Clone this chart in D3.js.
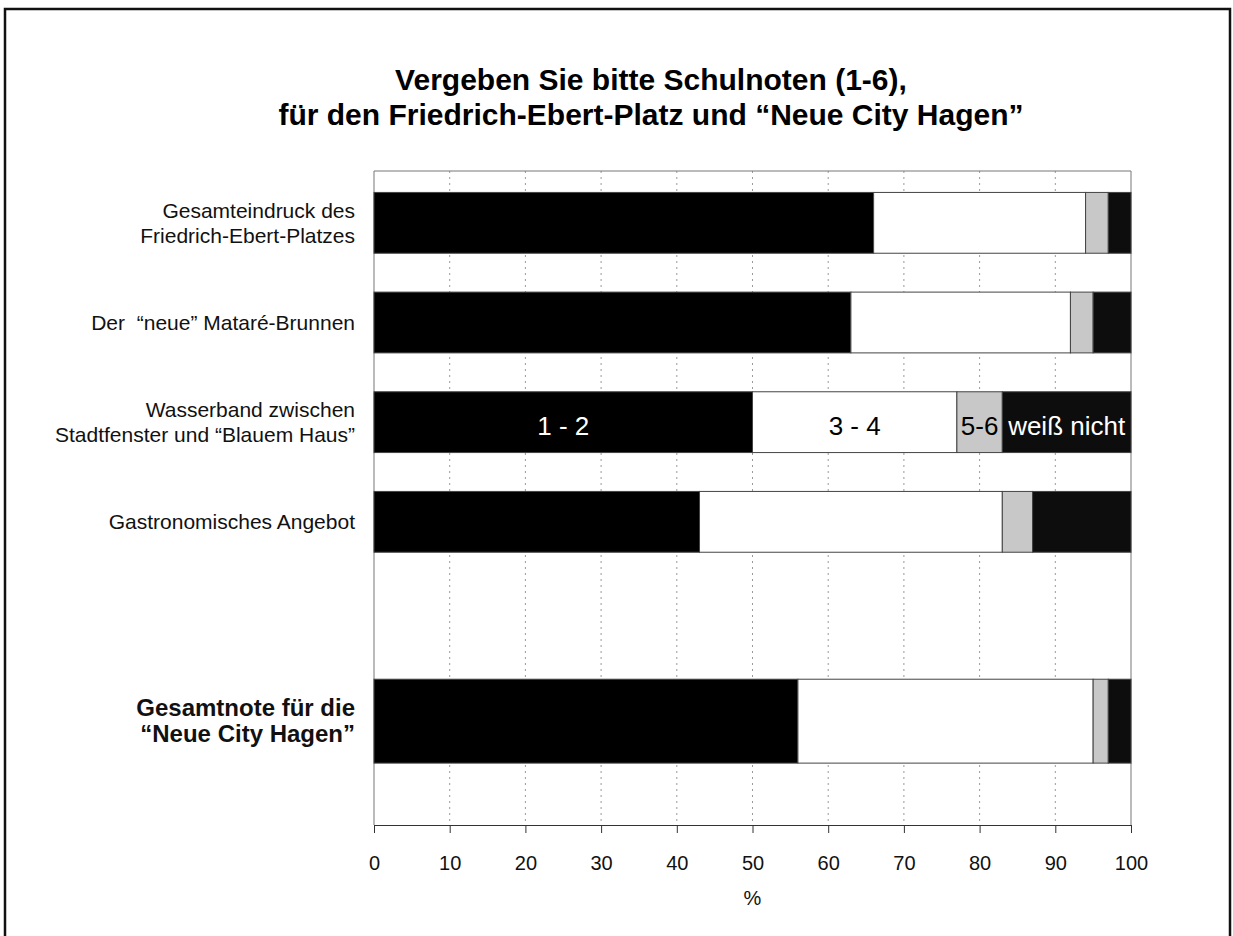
<!DOCTYPE html>
<html>
<head>
<meta charset="utf-8">
<script src="https://cdn.jsdelivr.net/npm/d3@7"></script>
<style>
  body { margin: 0; background: #fff; }
  text { font-family: "Liberation Sans", Arial, sans-serif; white-space: pre; }
  .axis path { stroke: #333; }
  .axis line { stroke: #333; }
  .axis text { font-size: 20px; fill: #111; }
</style>
</head>
<body>
<div id="chart"></div>
<script>
// categories (empty slot between the single items and the overall grade)
var categories = [
    'Gesamteindruck des\nFriedrich-Ebert-Platzes',
    'Der  \u201Cneue\u201D Matar\u00E9-Brunnen',
    'Wasserband zwischen\nStadtfenster und \u201CBlauem Haus\u201D',
    'Gastronomisches Angebot',
    '',
    'Gesamtnote f\u00FCr die\n\u201CNeue City Hagen\u201D'
];
var boldCategory = categories[5];
var labelledCategory = categories[2];

var seriesNames = ['1 - 2', '3 - 4', '5-6', 'wei\u00DF nicht'];
var note12 = [66, 63, 50, 43, null, 56];
var note34 = [28, 29, 27, 40, null, 39];
var note56 = [3, 3, 6, 4, null, 2];
var weissNicht = [3, 5, 17, 13, null, 3];

var xTicks = [0, 10, 20, 30, 40, 50, 60, 70, 80, 90, 100];
var titleLines = ['Vergeben Sie bitte Schulnoten (1-6),',
                  'f\u00FCr den Friedrich-Ebert-Platz und \u201CNeue City Hagen\u201D'];

var width = 1233;
var height = 936;
var plot = {left: 374, right: 1131, top: 171, bottom: 825};

var fills = ['#000', '#fff', '#c8c8c8', '#0d0d0d'];
var labelColors = ['#fff', '#000', '#000', '#fff'];

var svg = d3.select('#chart')
    .append('svg')
    .attr('width', width)
    .attr('height', height);

// outer frame
svg.append('rect')
    .attr('x', 5).attr('y', 9)
    .attr('width', 1225).attr('height', 960)
    .attr('fill', 'none')
    .attr('stroke', '#111')
    .attr('stroke-width', 2.5);

// title
svg.append('text')
    .attr('text-anchor', 'middle')
    .attr('font-size', 30)
    .attr('font-weight', 'bold')
    .selectAll('tspan')
    .data(titleLines)
    .enter().append('tspan')
    .attr('x', 651)
    .attr('y', function(d, i) { return 90 + i*35; })
    .text(function(d) { return d; });

var x = d3.scaleLinear().domain([0, 100]).range([plot.left, plot.right]);
var y = d3.scaleBand().domain(categories).range([173, 771])
    .paddingInner(0.39).paddingOuter(0.195);

// grid lines
svg.append('g')
    .selectAll('line')
    .data(xTicks.slice(1, -1))
    .enter().append('line')
    .attr('x1', function(d) { return x(d); })
    .attr('x2', function(d) { return x(d); })
    .attr('y1', plot.top)
    .attr('y2', plot.bottom)
    .attr('stroke', '#9a9a9a')
    .attr('stroke-dasharray', '2,4');

// plot frame: top, right, left
svg.append('path')
    .attr('d', 'M' + x(0) + ',' + plot.bottom + 'V' + plot.top + 'H' + x(100) + 'V' + plot.bottom)
    .attr('fill', 'none')
    .attr('stroke', '#777')
    .attr('stroke-width', 1);

// stacked rows
var rows = categories.map(function(c, i) {
    var vals = [note12[i], note34[i], note56[i], weissNicht[i]];
    var start = 0;
    var segs = [];
    if (vals[0] === null) return {cat: c, segs: segs};
    vals.forEach(function(v, k) {
        segs.push({cat: c, k: k, x0: start, x1: start + v});
        start += v;
    });
    return {cat: c, segs: segs};
});

function barTop(c) {
    var bw = y.bandwidth();
    var h = c == boldCategory ? bw*1.38 : bw;
    return y(c) + bw/2 - h/2;
}
function barHeight(c) {
    return c == boldCategory ? y.bandwidth()*1.38 : y.bandwidth();
}

var row = svg.append('g').selectAll('g.row')
    .data(rows)
    .enter().append('g')
    .attr('class', 'row');

row.selectAll('rect')
    .data(function(d) { return d.segs; })
    .enter().append('rect')
    .attr('x', function(d) { return x(d.x0); })
    .attr('width', function(d) { return x(d.x1) - x(d.x0); })
    .attr('y', function(d) { return barTop(d.cat); })
    .attr('height', function(d) { return barHeight(d.cat); })
    .attr('fill', function(d) { return fills[d.k]; })
    .attr('stroke', '#444')
    .attr('stroke-width', 1);

// series names written into one row
row.filter(function(d) { return d.cat == labelledCategory; })
    .selectAll('text')
    .data(function(d) { return d.segs; })
    .enter().append('text')
    .attr('x', function(d) { return x((d.x0 + d.x1)/2); })
    .attr('y', function(d) { return y(d.cat) + y.bandwidth()/2; })
    .attr('dy', '0.48em')
    .attr('text-anchor', 'middle')
    .attr('font-size', 26)
    .attr('fill', function(d) { return labelColors[d.k]; })
    .text(function(d) { return seriesNames[d.k]; });

// category labels
var labels = svg.append('g').selectAll('text')
    .data(categories.filter(function(c) { return c !== ''; }))
    .enter().append('text')
    .attr('text-anchor', 'end')
    .attr('font-size', function(d) { return d == boldCategory ? 24 : 21; })
    .attr('font-weight', function(d) { return d == boldCategory ? 'bold' : 'normal'; })
    .attr('fill', '#111');

labels.each(function(c) {
    var lines = c.split('\n');
    var lh = c == boldCategory ? 26 : 25;
    var cy = y(c) + y.bandwidth()/2;
    var first = cy - (lines.length - 1)*lh/2 + 7.5;
    d3.select(this).selectAll('tspan')
        .data(lines)
        .enter().append('tspan')
        .attr('x', 355)
        .attr('y', function(d, i) { return first + i*lh; })
        .text(function(d) { return d; });
});

// x axis
svg.append('g')
    .attr('class', 'axis')
    .attr('transform', 'translate(0,' + plot.bottom + ')')
    .call(d3.axisBottom(x).tickValues(xTicks).tickSize(8).tickPadding(23).tickSizeOuter(0));

svg.append('text')
    .attr('x', (plot.left + plot.right)/2)
    .attr('y', 905)
    .attr('text-anchor', 'middle')
    .attr('font-size', 20)
    .attr('fill', '#111')
    .text('%');
</script>
</body>
</html>
